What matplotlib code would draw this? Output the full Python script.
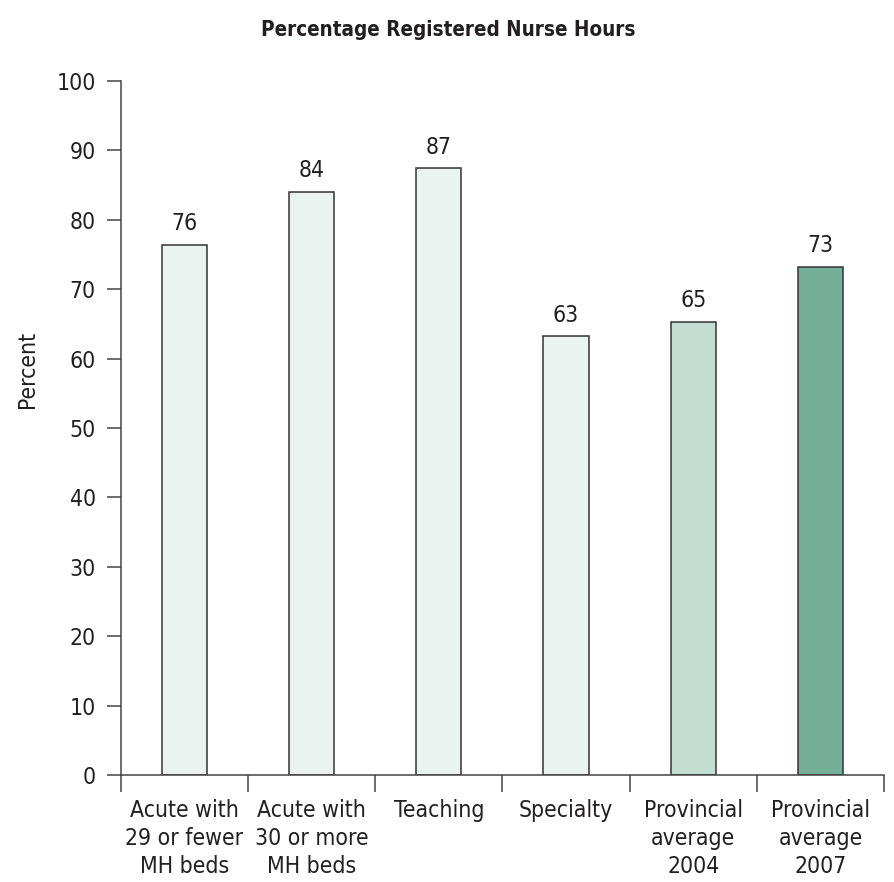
import matplotlib
matplotlib.use("Agg")
import matplotlib.pyplot as plt
from matplotlib.ticker import FixedLocator

categories = ["Acute with\n29 or fewer\nMH beds", "Acute with\n30 or more\nMH beds", "Teaching",
              "Specialty", "Provincial\naverage\n2004", "Provincial\naverage\n2007"]
values = [76.4, 84.0, 87.4, 63.2, 65.3, 73.2]
value_labels = ["76", "84", "87", "63", "65", "73"]
colors = ["#EAF3F0", "#EAF3F0", "#EAF3F0", "#EAF3F0", "#C3DDD3", "#75AE99"]
yticks = [0, 10, 20, 30, 40, 50, 60, 70, 80, 90, 100]

plt.rcParams['font.family'] = ['DejaVu Sans']
plt.rcParams['font.stretch'] = 'condensed'

FS = 16.5
TXT = "#231f20"

fig = plt.figure(figsize=(8.94, 8.82), dpi=100)
ax = fig.add_axes([0.1353, 0.1213, 0.8535, 0.7869])

x = list(range(len(categories)))
bars = ax.bar(x, values, width=0.355, color=colors, edgecolor="#333333", linewidth=1.1, zorder=2)
for xi, v, lab in zip(x, values, value_labels):
    ax.annotate(lab, (xi, v), xytext=(0, 7), textcoords="offset points",
                ha="center", va="bottom", fontsize=FS, color=TXT)

ax.set_xlim(-0.5, len(categories) - 0.5)
ax.set_ylim(0, 100)
ax.set_yticks(yticks)
ax.set_yticklabels([str(t) for t in yticks], fontsize=FS, color=TXT)
ax.set_xticks(x)
ax.set_xticklabels(categories, fontsize=FS, color=TXT, linespacing=1.3)
ax.xaxis.set_minor_locator(FixedLocator([i - 0.5 for i in range(len(categories) + 1)]))
ax.tick_params(axis="x", which="major", length=0, pad=17)
ax.tick_params(axis="x", which="minor", length=12, width=1.1, color="#444444", direction="out")
ax.tick_params(axis="y", which="major", length=10, width=1.1, color="#444444", direction="out", pad=8)

for s in ["top", "right"]:
    ax.spines[s].set_visible(False)
for s in ["left", "bottom"]:
    ax.spines[s].set_color("#444444")
    ax.spines[s].set_linewidth(1.1)

fig.text(27 / 894, 1 - 369 / 882, "Percent", rotation=90, ha="center", va="center",
         fontsize=FS, color=TXT)

fig.text(448 / 894, 1 - 30 / 882, "Percentage Registered Nurse Hours", ha="center", va="center",
         fontsize=14.8, fontweight="bold", color=TXT)

fig.savefig("out.png", dpi=100)
